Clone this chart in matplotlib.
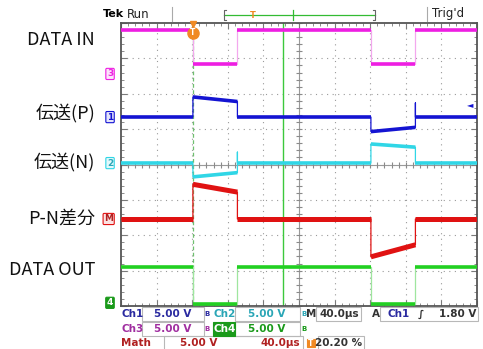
import numpy as np
import matplotlib.pyplot as plt
from matplotlib.patches import Rectangle
from matplotlib.lines import Line2D

plt.rcParams['font.family'] = ['Noto Sans CJK JP', 'DejaVu Sans']

W, H = 483, 349

# scope settings
time_per_div = 40.0      # us/div
trig_pos = 0.202         # 20.20 %
t_left = -trig_pos * 10 * time_per_div
t_right = t_left + 10 * time_per_div
cursor_t = 101.0

# segment boundaries (us), levels in divisions (start / end of each segment)
edges = [t_left, 0, 50, 200, 250, t_right]

ch3_start = [3.81, 2.84, 3.81, 2.84, 3.81]
ch3_end = [3.81, 2.84, 3.81, 2.84, 3.81]

ch1_start = [1.34, 1.91, 1.34, 0.93, 1.34]
ch1_end = [1.34, 1.78, 1.34, 1.05, 1.34]
ch1_spikes = {250: 1.74}

ch2_start = [0.04, -0.35, 0.04, 0.58, 0.04]
ch2_end = [0.04, -0.23, 0.04, 0.49, 0.04]
ch2_spikes = {50: 0.35}

math_start = [-1.54, -0.56, -1.54, -2.61, -1.54]
math_end = [-1.54, -0.78, -1.54, -2.27, -1.54]

ch4_start = [-2.90, -3.94, -2.90, -3.94, -2.90]
ch4_end = [-2.90, -3.94, -2.90, -3.94, -2.90]

# ground / offset markers (div)
markers = [('3', 2.56), ('1', 1.34), ('2', 0.04), ('M', -1.54), ('4', -3.91)]
ch1_offset = 1.34
ch1_vdiv = 5.0
trig_level = 1.80

labels = ['DATA IN', '伝送(P)', '伝送(N)', 'P-N差分', 'DATA OUT']
label_y = [40, 113, 162, 219, 270]

C1, C2, C3, CM, C4 = '#1414d2', '#30d6e6', '#ee1ee2', '#e01212', '#22d022'
ORANGE = '#f08a24'


def trace(start, end, spikes=None):
    x, y = [], []
    for i in range(len(start)):
        x += [edges[i], edges[i + 1]]
        y += [start[i], end[i]]
        if spikes and edges[i + 1] in spikes:
            x.append(edges[i + 1])
            y.append(spikes[edges[i + 1]])
    return x, y


def fx(px):
    return px / W


def fy(py):
    return 1 - py / H


fig = plt.figure(figsize=(W / 100, H / 100), dpi=100)
ax = fig.add_axes([fx(121), fy(306), 356 / W, 283 / H])
ax.set_xlim(t_left, t_right)
ax.set_ylim(-4, 4)

# graticule
div_t = np.arange(t_left, t_right + 1, time_per_div)
for t in div_t[1:-1]:
    ax.axvline(t, color='#9a9a9a', lw=0.8, ls=(0, (1, 4)), zorder=1)
for v in range(-3, 4):
    ax.axhline(v, color='#9a9a9a', lw=0.8, ls=(0, (1, 4)), zorder=1)
t_mid = t_left + 5 * time_per_div
ax.axvline(t_mid, color='#9a9a9a', lw=0.8, zorder=1)
ax.axhline(0, color='#9a9a9a', lw=0.8, zorder=1)
small_t = np.arange(t_left, t_right + 1, time_per_div / 5)
small_v = np.arange(-4, 4.01, 0.2)
ax.plot(small_t, np.zeros_like(small_t), ls='none', marker='|', ms=4, color='#8a8a8a', mew=0.8, zorder=1)
ax.plot(np.full_like(small_v, t_mid), small_v, ls='none', marker='_', ms=4, color='#8a8a8a', mew=0.8, zorder=1)

ax.set_xticks(div_t)
ax.set_xticks(small_t, minor=True)
ax.set_yticks(range(-4, 5))
ax.set_yticks(small_v, minor=True)
ax.tick_params(which='both', direction='in', top=True, right=True,
               labelbottom=False, labelleft=False, color='#7a7a7a')
ax.tick_params(which='major', length=4)
ax.tick_params(which='minor', length=2.5)
for s in ax.spines.values():
    s.set_color('#555555')
    s.set_linewidth(1.3)

# trigger / cursor lines
ax.axvline(0, color='#6fbf6f', lw=0.9, ls=(0, (3, 2)), zorder=2)
ax.axvline(cursor_t, color='#3cc83c', lw=1.0, zorder=2)

# traces: thin edges first, then thick level segments
for start, end, spikes, col, edge_col, lw in [
        (ch3_start, ch3_end, None, C3, '#f3a8ee', 2.6),
        (ch1_start, ch1_end, ch1_spikes, C1, C1, 2.6),
        (ch2_start, ch2_end, ch2_spikes, C2, C2, 2.6),
        (math_start, math_end, None, CM, CM, 3.6),
        (ch4_start, ch4_end, None, C4, '#9fe69f', 2.6)]:
    x, y = trace(start, end, spikes)
    ax.plot(x, y, color=edge_col, lw=0.9, zorder=3)
    for i in range(len(start)):
        ax.plot(edges[i:i + 2], [start[i], end[i]], color=col, lw=lw,
                solid_capstyle='butt', zorder=4)

# trigger marker on top
ax.plot(0, 3.97, marker='v', ms=5, color=ORANGE, clip_on=False, zorder=6)
ax.plot(0, 3.72, marker='o', ms=8, color=ORANGE, clip_on=False, zorder=6)
ax.text(0, 3.72, 'T', color='white', fontsize=5.5, ha='center', va='center',
        family='DejaVu Sans', weight='bold', zorder=7)

# trigger level arrow on right
ax.text(t_right - 4, ch1_offset + trig_level / ch1_vdiv, '\u25c4', color=C1,
        fontsize=6, ha='right', va='center', family='DejaVu Sans', zorder=6)

# channel offset markers on left
mstyle = {'3': (C3, '#fbe6fa', C3), '1': (C1, '#e4e4fb', C1),
          '2': (C2, '#e3f8fb', '#2aa8b8'), 'M': (CM, '#fbe2e2', '#b02020'),
          '4': ('#1a9a1a', '#1a9a1a', 'white')}
for name, lvl in markers:
    ec, fc, tc = mstyle[name]
    ax.text(-0.022, lvl, name, transform=ax.get_yaxis_transform(), ha='right', va='center',
            fontsize=6.5, color=tc, family='DejaVu Sans', weight='bold', clip_on=False,
            bbox=dict(boxstyle='round,pad=0.12', fc=fc, ec=ec, lw=0.8))

# left labels
for lab, py in zip(labels, label_y):
    fig.text(fx(95), fy(py), lab, ha='right', va='center', fontsize=13, color='#111111')

# header
fig.text(fx(103), fy(14), 'Tek', fontsize=8, weight='bold', family='DejaVu Sans', va='center')
fig.text(fx(127), fy(14), 'Run', fontsize=8.5, family='DejaVu Sans', va='center', color='#222222')
fig.text(fx(432), fy(14), "Trig'd", fontsize=8.5, family='DejaVu Sans', va='center', color='#222222')
for x0 in (172, 427):
    fig.add_artist(Line2D([fx(x0), fx(x0)], [fy(7), fy(21)], color='#aaaaaa', lw=0.8))
fig.add_artist(Line2D([fx(224), fx(375)], [fy(15), fy(15)], color='#33bb33', lw=0.9))
for x0, d in ((224, 1), (375, -1)):
    fig.add_artist(Line2D([fx(x0 + 2 * d), fx(x0), fx(x0), fx(x0 + 2 * d)],
                          [fy(10), fy(10), fy(20), fy(20)], color='#666666', lw=0.8))
fig.add_artist(Line2D([fx(293), fx(293)], [fy(10), fy(20)], color='#33bb33', lw=0.9))
fig.text(fx(253), fy(15), 'T', fontsize=6, color=ORANGE, ha='center', va='center',
         family='DejaVu Sans', weight='bold')


# bottom readout
def box(x0, x1, y0, y1, fc='none', ec='#b8b8b8'):
    fig.add_artist(Rectangle((fx(x0), fy(y1)), fx(x1) - fx(x0), fy(y0) - fy(y1),
                             fc=fc, ec=ec, lw=0.8))


def rtext(x, y, s, c, ha='left', size=7.5):
    fig.text(fx(x), fy(y), s, color=c, ha=ha, va='center', fontsize=size,
             family='DejaVu Sans', weight='bold')


TC1, TC2, TC3, TCM, TC4 = '#2a2aa0', '#2aa6b6', '#a02ea0', '#b02020', '#1a9a1a'
r1, r2, r3 = 314, 329, 343
box(142, 204, r1 - 7, r1 + 7)
box(235, 300, r1 - 7, r1 + 7)
box(316, 361, r1 - 7, r1 + 7)
box(380, 478, r1 - 7, r1 + 7)
box(142, 204, r2 - 7, r2 + 7)
box(235, 300, r2 - 7, r2 + 7)
box(164, 303, r3 - 7, r3 + 7)
box(318, 364, r3 - 7, r3 + 7)
box(213, 235, r2 - 7, r2 + 7, fc='#1a9a1a', ec='#1a9a1a')
box(307, 315, r3 - 4, r3 + 4, fc=ORANGE, ec=ORANGE)

rtext(121, r1, 'Ch1', TC1)
rtext(191, r1, '5.00 V', TC1, ha='right')
rtext(204, r1, 'B', TC1, size=5)
rtext(213, r1, 'Ch2', TC2)
rtext(285, r1, '5.00 V', TC2, ha='right')
rtext(301, r1, 'B', TC2, size=5)
rtext(306, r1, 'M', '#333333')
rtext(359, r1, '40.0\u00b5s', '#333333', ha='right')
rtext(372, r1, 'A', '#333333')
rtext(388, r1, 'Ch1', TC1)
rtext(418, r1, '\u222b', '#333333')
rtext(476, r1, '1.80 V', '#333333', ha='right')

rtext(121, r2, 'Ch3', TC3)
rtext(191, r2, '5.00 V', TC3, ha='right')
rtext(204, r2, 'B', TC3, size=5)
rtext(213, r2, 'Ch4', 'white')
rtext(285, r2, '5.00 V', TC4, ha='right')
rtext(301, r2, 'B', TC4, size=5)

rtext(121, r3, 'Math', TCM)
rtext(217, r3, '5.00 V', TCM, ha='right')
rtext(300, r3, '40.0\u00b5s', TCM, ha='right')
rtext(311, r3, 'T', 'white', ha='center', size=5.5)
rtext(362, r3, '20.20 %', '#333333', ha='right')

fig.savefig('out.png', dpi=100)
